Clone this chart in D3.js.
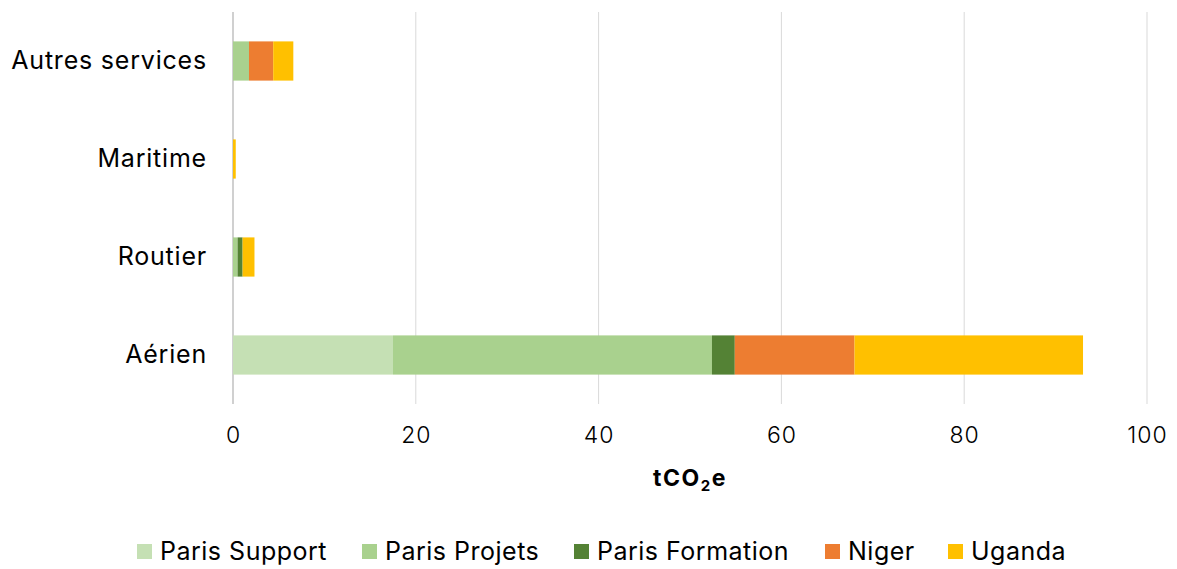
<!DOCTYPE html>
<html>
<head>
<meta charset="utf-8">
<script src="https://cdn.jsdelivr.net/npm/d3@7"></script>
<style>
  html, body { margin: 0; padding: 0; background: #fff; }
  svg text { font-family: "Inter", "Noto Sans", sans-serif; fill: #000; }
</style>
</head>
<body>
<svg id="chart" width="1177" height="569"></svg>
<script>
// Transport modes (top to bottom) and emission sources
const categories = ["Autres services", "Maritime", "Routier", "Aérien"];
const seriesNames = ["Paris Support", "Paris Projets", "Paris Formation", "Niger", "Uganda"];
const seriesColors = ["#c5e0b4", "#a9d18e", "#548235", "#ed7d31", "#ffc000"];

// tCO2e per source, one value per category (same order as categories)
const parisSupport   = [0,    0,   0,    17.5];
const parisProjets   = [1.75, 0,   0.5,  34.9];
const parisFormation = [0,    0,   0.55, 2.5];
const niger          = [2.65, 0,   0,    13.1];
const uganda         = [2.2,  0.3, 1.3,  25.0];

const xTicks = [0, 20, 40, 60, 80, 100];

const seriesValues = [parisSupport, parisProjets, parisFormation, niger, uganda];
const rows = categories.map((c, i) => {
  const r = { category: c };
  seriesNames.forEach((s, j) => { r[s] = seriesValues[j][i]; });
  return r;
});

const svg = d3.select("#chart");
const margin = { left: 233, top: 12 };
const plotRight = 1147;
const plotBottom = 404;

const x = d3.scaleLinear().domain([0, 100]).range([margin.left, plotRight]);
const y = d3.scaleBand().domain(categories).range([margin.top, plotBottom]).paddingInner(0.6).paddingOuter(0.3);

// Vertical gridlines
svg.append("g")
  .selectAll("line")
  .data(xTicks)
  .join("line")
  .attr("x1", d => x(d)).attr("x2", d => x(d))
  .attr("y1", margin.top).attr("y2", plotBottom)
  .attr("stroke", d => d === 0 ? "#d0d0d0" : "#d9d9d9")
  .attr("stroke-width", d => d === 0 ? 2 : 1);

// Stacked bars
const stack = d3.stack().keys(seriesNames);
const layers = stack(rows);
const color = d3.scaleOrdinal().domain(seriesNames).range(seriesColors);

svg.append("g")
  .selectAll("g")
  .data(layers)
  .join("g")
  .attr("fill", d => color(d.key))
  .selectAll("rect")
  .data(d => d)
  .join("rect")
  .attr("x", d => x(d[0]))
  .attr("width", d => Math.max(0, x(d[1]) - x(d[0])))
  .attr("y", d => y(d.data.category))
  .attr("height", y.bandwidth());

// X axis tick labels
const xAxis = d3.axisBottom(x).tickValues(xTicks).tickSize(0).tickPadding(0);
const gx = svg.append("g").attr("transform", `translate(0,${plotBottom})`).call(xAxis);
gx.select(".domain").remove();
gx.selectAll("text")
  .attr("dy", null)
  .attr("y", 39)
  .style("font-size", "23px")
  .style("font-weight", "300")
  .style("letter-spacing", "1px")
  .attr("fill", "#000");

// Y axis category labels
const yAxis = d3.axisLeft(y).tickSize(0).tickPadding(0);
const gy = svg.append("g").attr("transform", `translate(${margin.left - 26},0)`).call(yAxis);
gy.select(".domain").remove();
gy.selectAll("text")
  .style("font-size", "25px")
  .style("letter-spacing", "0.8px")
  .attr("dy", "0.3em")
  .attr("fill", "#000");

// Axis title with subscript
const title = svg.append("text")
  .attr("x", x(50))
  .attr("y", 486)
  .attr("text-anchor", "middle")
  .style("font-size", "23px")
  .style("font-weight", "700")
  .style("letter-spacing", "1.5px");
title.append("tspan").text("tCO");
title.append("tspan").text("2").style("font-size", "15px").attr("dy", 5);
title.append("tspan").text("e").attr("dy", -5);

// Legend
const legendX = [137, 362, 574, 825, 948];
const legend = svg.append("g")
  .selectAll("g")
  .data(seriesNames)
  .join("g")
  .attr("transform", (d, i) => `translate(${legendX[i]},551)`);
legend.append("rect")
  .attr("x", 0).attr("y", -7)
  .attr("width", 15).attr("height", 15)
  .attr("fill", d => color(d));
legend.append("text")
  .attr("x", 23)
  .attr("dy", "0.35em")
  .style("font-size", "25px")
  .style("letter-spacing", "0.5px")
  .text(d => d);
</script>
</body>
</html>
